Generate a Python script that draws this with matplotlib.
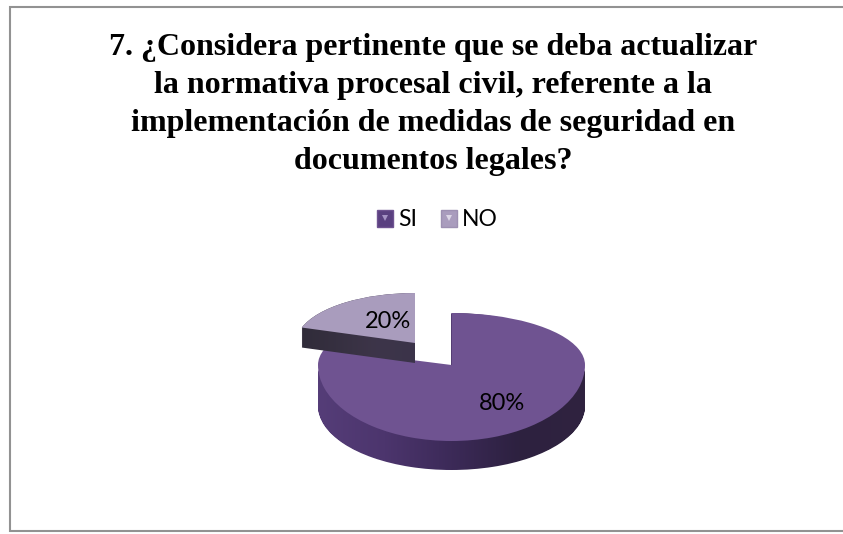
import numpy as np
import matplotlib
matplotlib.use("Agg")
import matplotlib.pyplot as plt
from matplotlib.patches import Patch, PathPatch
from matplotlib.lines import Line2D
from matplotlib.path import Path
from matplotlib.colors import LinearSegmentedColormap
from matplotlib.legend_handler import HandlerTuple

title_lines = ["7. ¿Considera pertinente que se deba actualizar",
               "la normativa procesal civil, referente a la",
               "implementación de medidas de seguridad en",
               "documentos legales?"]
categories = ["SI", "NO"]
values = [80, 20]

W, H = 843, 534
fig = plt.figure(figsize=(W/100, H/100), dpi=100, facecolor="white")

def px_axes(x0, x1, y0, y1, z):
    a = fig.add_axes([x0/W, 1-y1/H, (x1-x0)/W, (y1-y0)/H], zorder=z)
    a.axis("off")
    return a

bg = px_axes(0, W, 0, H, 0)
bg.set_xlim(0, W); bg.set_ylim(H, 0)
# frame: open on the right, running off the edge of the picture
bg.plot([W, 10, 10, W], [6.5, 6.5, 530.5, 530.5], color="#929292", lw=1.5, solid_joinstyle="miter")

def layers(x0, x1, yc, ry, depth, idx, side_colors, z):
    """Extruded side of one slice: stacked copies of the pie slice, shaded left to right."""
    a = px_axes(x0, x1, yc-ry, yc+ry+depth, z)
    n = int(depth)
    fc = ["none", "none"]
    fc[idx] = side_colors[0]
    paths = []
    for k in range(n+1):
        w, _ = a.pie(values, radius=1, startangle=90, counterclock=False, center=(0, -k/ry),
                     colors=fc, wedgeprops=dict(lw=0))
        paths.append(w[idx].get_path().transformed(w[idx].get_patch_transform()))
        for q in w:
            q.remove()
    comp = Path.make_compound_path(*paths)
    clip = PathPatch(comp, fc="none", ec="none", transform=a.transData)
    a.add_patch(clip)
    cm = LinearSegmentedColormap.from_list("s", side_colors)
    im = a.imshow(np.linspace(0, 1, 256)[None, :], cmap=cm, extent=(-1, 1, -3, 1), aspect="auto", zorder=2)
    im.set_clip_path(clip)
    a.set_xlim(-1, 1)
    a.set_ylim(1-(2*ry+depth)/ry, 1)
    a.set_aspect("auto")
    a.axis("off")
    return a

def top_face(x0, x1, ytop, yapex, ybot, idx, color, z):
    """Top face: y scale differs above / below the apex to give the perspective of the original."""
    a = px_axes(x0, x1, ytop, ybot, z)
    up, dn = yapex-ytop, ybot-yapex
    fwd = lambda y: np.where(np.asarray(y) > 0, np.asarray(y)*up, np.asarray(y)*dn)
    inv = lambda v: np.where(np.asarray(v) > 0, np.asarray(v)/up, np.asarray(v)/dn)
    fc = ["none", "none"]
    fc[idx] = color
    a.pie(values, radius=1, startangle=90, counterclock=False, colors=fc, wedgeprops=dict(lw=0))
    a.set_yscale("function", functions=(fwd, inv))
    a.set_xlim(-1, 1)
    a.set_ylim(-1, 1)
    a.set_aspect("auto")
    a.axis("off")
    return a

# SI slice
layers(318, 585, 377, 64, 29, 0, ["#553d78", "#4c356d", "#3c2a58", "#2d2140", "#30233f"], 1)
top_face(318, 585, 313, 365, 441, 0, "#6f5391", 2)
# NO slice
layers(296, 534, 343, 50, 20, 1, ["#2f2b38", "#3d3549", "#39324a", "#2d2933"], 3)
top_face(296, 534, 293, 343, 393, 1, "#a99cbd", 4)

fg = px_axes(0, W, 0, H, 6)
fg.set_xlim(0, W); fg.set_ylim(H, 0)
for i, line in enumerate(title_lines):
    fg.text(433, 48+i*37.7, line, ha="center", va="center", family="Liberation Serif",
            weight="bold", fontsize=23, color="black")
fg.text(388, 321, f"{values[1]}%", ha="center", va="center", family="Lato", fontsize=17)
fg.text(502.5, 404, f"{values[0]}%", ha="center", va="center", family="Lato", fontsize=17)

def handle(face, edge, glint):
    return (Patch(fc=face, ec=edge, lw=1),
            Line2D([], [], marker="v", ms=4, color=glint, ls="none", mew=0))

fg.legend(handles=[handle("#5a4080", "#6f5391", "#a592c4"), handle("#a99cbd", "#9d90b2", "#dcd6e6")],
          labels=categories, ncol=2, loc="center", bbox_to_anchor=(437.5/W, 1-220/H),
          bbox_transform=fig.transFigure, frameon=False, prop=dict(family="Lato", size=16.5),
          handlelength=0.7, handleheight=0.7, handletextpad=0.2, columnspacing=1.05,
          handler_map={tuple: HandlerTuple(ndivide=1, pad=0)})
fig.savefig("out.png", dpi=100)
